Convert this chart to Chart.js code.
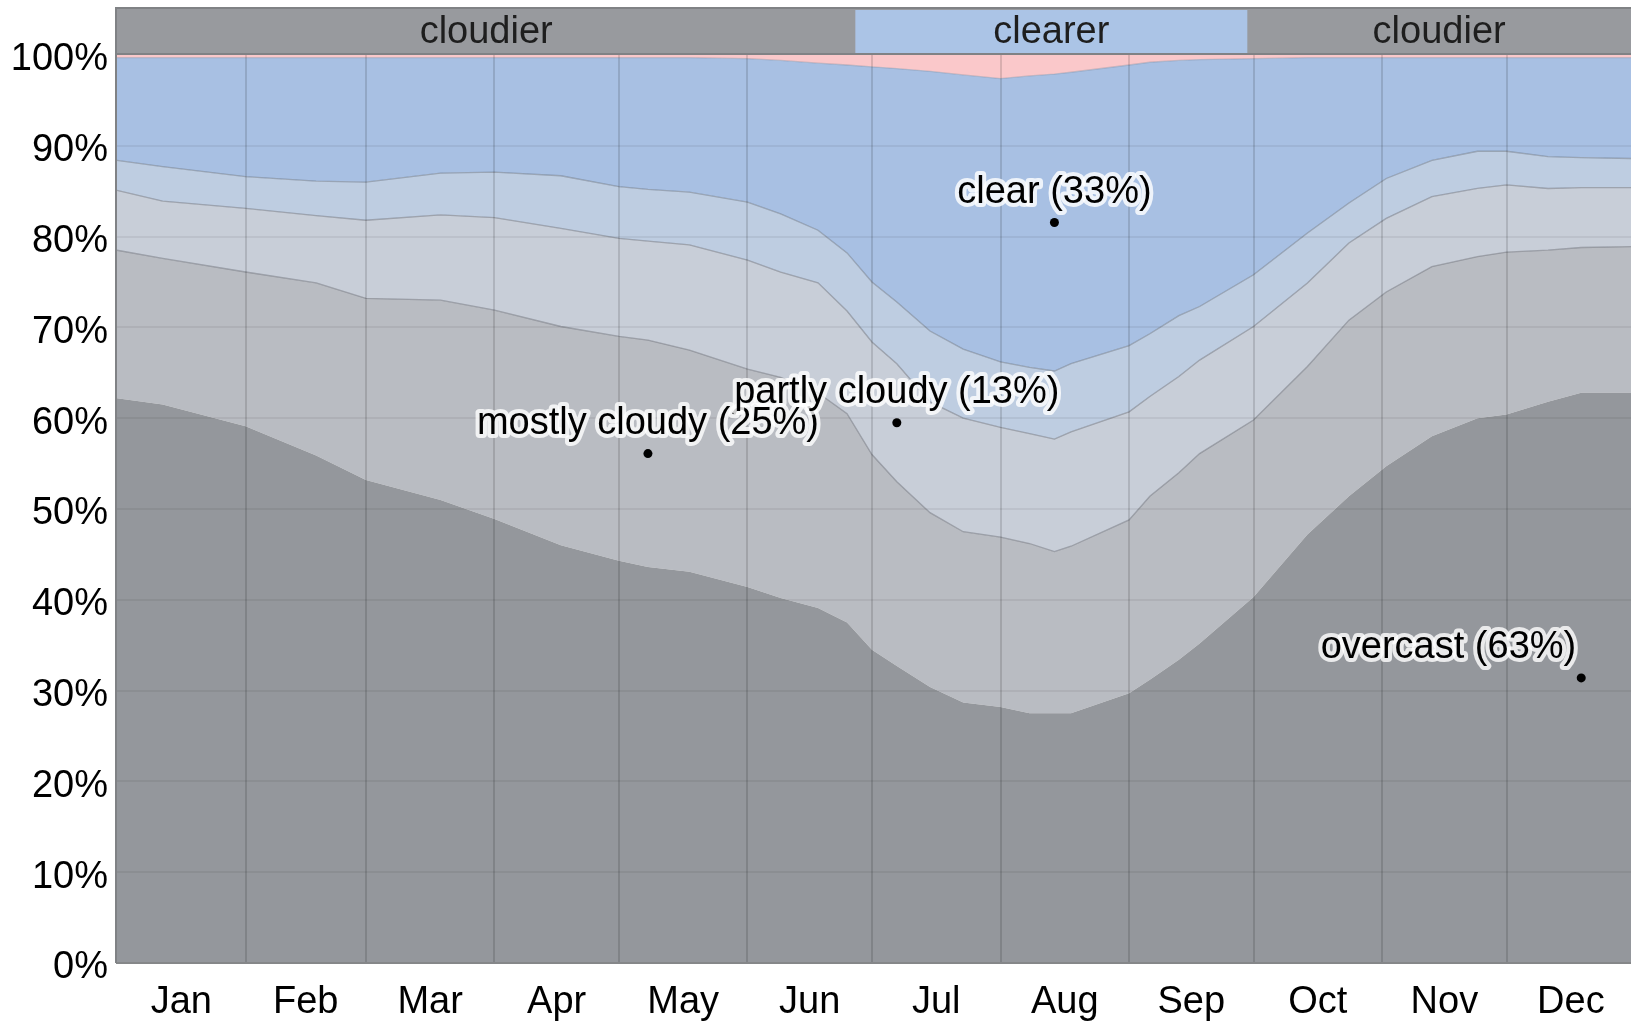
<!DOCTYPE html>
<html>
<head>
<meta charset="utf-8">
<title>Cloud cover categories</title>
<script src="https://cdn.jsdelivr.net/npm/chart.js@4.4.1/dist/chart.umd.min.js"></script>
<style>
  html, body { margin: 0; padding: 0; background: #fff; }
  canvas { display: block; }
</style>
</head>
<body>
<canvas id="chart" width="1631" height="1021"></canvas>
<script>
// day of year for each sample
const days = [0, 11, 31, 48, 60, 78, 91, 107, 121, 128, 138, 152, 160, 169, 176, 182, 188, 196, 204, 213, 220, 226, 230, 244, 249, 256, 261, 274, 287, 297, 306, 317, 328, 335, 345, 353, 365];

// percent of time in each category, bottom to top
const overcast = [62.2, 61.5, 59.1, 55.9, 53.2, 51.0, 48.9, 46.0, 44.3, 43.6, 43.1, 41.4, 40.2, 39.1, 37.5, 34.5, 32.7, 30.4, 28.7, 28.2, 27.5, 27.5, 27.5, 29.7, 31.2, 33.4, 35.2, 40.3, 47.2, 51.4, 54.7, 58.0, 60.0, 60.4, 61.8, 62.8, 62.8];
const mostlyCloudy = [16.3, 16.1, 17.0, 19.0, 20.0, 22.0, 23.0, 24.1, 24.7, 25.0, 24.4, 24.0, 24.3, 23.7, 23.0, 21.5, 20.3, 19.2, 18.8, 18.7, 18.7, 17.8, 18.4, 19.1, 20.2, 20.6, 20.9, 19.5, 18.5, 19.4, 19.2, 18.7, 17.8, 17.9, 16.7, 16.0, 16.1];
const partlyCloudy = [6.6, 6.3, 7.0, 7.4, 8.6, 9.4, 10.2, 10.8, 10.8, 10.9, 11.6, 12.0, 11.6, 12.1, 11.3, 12.4, 13.0, 12.2, 12.5, 12.1, 12.1, 12.4, 12.6, 11.9, 11.0, 10.6, 10.3, 10.3, 9.2, 8.5, 8.1, 7.7, 7.5, 7.4, 6.8, 6.6, 6.5];
const mostlyClear = [3.3, 3.8, 3.5, 3.8, 4.2, 4.6, 5.0, 5.8, 5.7, 5.7, 5.8, 6.4, 6.4, 5.8, 6.4, 6.6, 6.8, 7.8, 7.6, 7.2, 7.3, 7.5, 7.5, 7.3, 6.9, 6.7, 5.9, 5.7, 5.5, 4.4, 4.4, 4.0, 4.1, 3.7, 3.5, 3.3, 3.2];
const clear = [11.3, 12.0, 13.1, 13.6, 13.7, 12.7, 12.6, 13.0, 14.2, 14.5, 14.8, 15.8, 16.9, 18.4, 20.7, 23.7, 25.7, 28.6, 30.2, 31.2, 32.1, 32.7, 32.1, 30.9, 29.9, 28.1, 27.2, 23.8, 19.3, 16.0, 13.3, 11.3, 10.3, 10.3, 10.9, 11.0, 11.1];
const noData = [0.3, 0.3, 0.3, 0.3, 0.3, 0.3, 0.3, 0.3, 0.3, 0.3, 0.3, 0.4, 0.6, 0.9, 1.1, 1.3, 1.5, 1.8, 2.2, 2.6, 2.3, 2.1, 1.9, 1.1, 0.8, 0.6, 0.5, 0.4, 0.3, 0.3, 0.3, 0.3, 0.3, 0.3, 0.3, 0.3, 0.3];

// leap-year calendar
const months = ["Jan", "Feb", "Mar", "Apr", "May", "Jun", "Jul", "Aug", "Sep", "Oct", "Nov", "Dec"];
const monthStarts = [0, 31, 60, 91, 121, 152, 182, 213, 244, 274, 305, 335, 366];
const yTicks = [0, 10, 20, 30, 40, 50, 60, 70, 80, 90, 100];
const LAST_DAY = 365;

// cloudier / clearer / cloudier parts of the year
const seasonNames = ["cloudier", "clearer", "cloudier"];
const seasonEdges = [0, 178, 272.5, 365];

const FONT = "'Liberation Sans', Arial, sans-serif";

const layers = [
  { name: "overcast", values: overcast, color: "#94979c", line: "transparent" },
  { name: "mostly cloudy", values: mostlyCloudy, color: "#b9bcc2", line: "rgba(105,110,120,0.5)" },
  { name: "partly cloudy", values: partlyCloudy, color: "#c8ced8", line: "rgba(105,110,120,0.5)" },
  { name: "mostly clear", values: mostlyClear, color: "#becde1", line: "rgba(105,115,130,0.5)" },
  { name: "clear", values: clear, color: "#a8c0e3", line: "rgba(120,130,150,0.35)" },
  { name: "no data", values: noData, color: "#fac8ca", line: "transparent" }
];

// where the category names go: layer index, day, text anchor
const labelSpots = [
  { layer: 0, day: 353, align: "right" },
  { layer: 1, day: 128, align: "center" },
  { layer: 2, day: 188, align: "center" },
  { layer: 4, day: 226, align: "center" }
];

const monthMids = months.map((m, i) => (monthStarts[i] + monthStarts[i + 1]) / 2);

const seasonBand = {
  id: "seasonBand",
  afterDraw(chart) {
    const { ctx, chartArea: a, scales: { x } } = chart;
    ctx.save();
    ctx.fillStyle = "#989a9e";
    ctx.fillRect(a.left, 7, a.right - a.left, a.top - 7);
    for (let i = 0; i < seasonNames.length; i++) {
      const x0 = x.getPixelForValue(seasonEdges[i]);
      const x1 = x.getPixelForValue(seasonEdges[i + 1]);
      if (seasonNames[i] === "clearer") {
        ctx.fillStyle = "#abc4e6";
        ctx.fillRect(x0, 10, x1 - x0, a.top - 12);
      }
      ctx.fillStyle = "#1e1e1e";
      ctx.font = "38px " + FONT;
      ctx.textAlign = "center";
      ctx.textBaseline = "middle";
      ctx.fillText(seasonNames[i], (x0 + x1) / 2, 33);
    }
    ctx.strokeStyle = "#808285";
    ctx.lineWidth = 2;
    ctx.beginPath();
    ctx.moveTo(a.left, 8);
    ctx.lineTo(a.right, 8);
    ctx.moveTo(a.left, a.top - 1);
    ctx.lineTo(a.right, a.top - 1);
    ctx.moveTo(a.left - 1, 7);
    ctx.lineTo(a.left - 1, a.bottom);
    ctx.stroke();
    ctx.restore();
  }
};

const layerLabels = {
  id: "layerLabels",
  afterDraw(chart) {
    const ctx = chart.ctx;
    const y0 = chart.scales.y.getPixelForValue(0);
    ctx.save();
    ctx.font = "38px " + FONT;
    ctx.textBaseline = "middle";
    labelSpots.forEach(s => {
      const i = days.indexOf(s.day);
      const top = chart.getDatasetMeta(s.layer).data[i];
      const bottom = s.layer > 0 ? chart.getDatasetMeta(s.layer - 1).data[i].y : y0;
      const px = top.x;
      const py = (top.y + bottom) / 2;
      const text = layers[s.layer].name + " (" + Math.round(layers[s.layer].values[i]) + "%)";
      const tx = s.align === "right" ? px - 5 : px;
      const ty = py - 30;
      ctx.textAlign = s.align;
      ctx.lineJoin = "round";
      ctx.lineWidth = 8;
      ctx.strokeStyle = "rgba(255,255,255,0.8)";
      ctx.strokeText(text, tx, ty);
      ctx.fillStyle = "#000";
      ctx.fillText(text, tx, ty);
      ctx.beginPath();
      ctx.arc(px, py, 4.5, 0, Math.PI * 2);
      ctx.fill();
    });
    ctx.restore();
  }
};

new Chart(document.getElementById("chart"), {
  "type": "line",
  "data": {
    "datasets": layers.map((l, k) => ({
      "label": l.name,
      "data": l.values.map((v, i) => ({ x: days[i], y: v })),
      "fill": k === 0 ? "origin" : "-1",
      "backgroundColor": l.color,
      "borderColor": l.line,
      "borderWidth": 1.3,
      "pointRadius": 0,
      "tension": 0
    }))
  },
  "options": {
    "responsive": false,
    "animation": false,
    "devicePixelRatio": 1,
    "layout": { "padding": { "top": 55, "left": 0, "right": 0, "bottom": 0 } },
    "plugins": { "legend": { "display": false }, "tooltip": { "enabled": false } },
    "scales": {
      "x": {
        "type": "linear",
        "min": 0,
        "max": LAST_DAY,
        "afterBuildTicks": s => {
          s.ticks = monthStarts.concat(monthMids)
            .filter(v => v <= LAST_DAY)
            .sort((a, b) => a - b)
            .map(v => ({ value: v }));
        },
        "afterFit": s => {
          s.height = 58;
          s.paddingLeft = 0;
          s.paddingRight = 0;
        },
        "grid": {
          "z": 1,
          "drawTicks": false,
          "color": c => {
            const v = c.tick ? c.tick.value : -1;
            return monthStarts.includes(v) && v > 0 && v < LAST_DAY ? "rgba(0,0,0,0.13)" : "rgba(0,0,0,0)";
          },
          "lineWidth": 2
        },
        "border": { "display": true, "color": "#858789", "width": 2, "z": 1 },
        "ticks": {
          "autoSkip": false,
          "maxRotation": 0,
          "padding": 17,
          "color": "#000",
          "font": { "family": FONT, "size": 38 },
          "callback": v => {
            const m = monthMids.indexOf(v);
            return m >= 0 ? months[m] : "";
          }
        }
      },
      "y": {
        "stacked": true,
        "min": 0,
        "max": 100,
        "afterBuildTicks": s => { s.ticks = yTicks.map(v => ({ value: v })); },
        "afterFit": s => { s.width = 117; },
        "grid": {
          "z": 1,
          "drawTicks": false,
          "color": c => {
            const v = c.tick ? c.tick.value : -1;
            return v > 0 && v < 100 ? "rgba(0,0,0,0.06)" : "rgba(0,0,0,0)";
          },
          "lineWidth": 2
        },
        "border": { "display": false },
        "ticks": {
          "padding": 9,
          "labelOffset": 5,
          "color": "#000",
          "font": { "family": FONT, "size": 38 },
          "callback": v => v + "%"
        }
      }
    }
  },
  "plugins": [seasonBand, layerLabels]
});
</script>
</body>
</html>
